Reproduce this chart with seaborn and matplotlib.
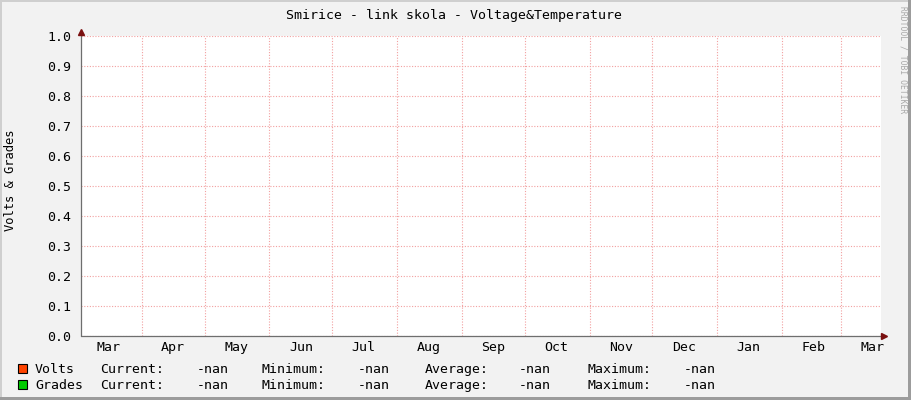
import numpy as np
import pandas as pd
import matplotlib
matplotlib.use('Agg')
import matplotlib.pyplot as plt
import matplotlib.dates as mdates
from matplotlib.patches import Rectangle
import seaborn as sns

# data: the source rrd had no values, every sample is NaN
dates = pd.to_datetime(['2022-03-03', '2022-04-01', '2022-05-01', '2022-06-01', '2022-07-01',
                        '2022-08-01', '2022-09-01', '2022-10-01', '2022-11-01', '2022-12-01',
                        '2023-01-01', '2023-02-01', '2023-03-01', '2023-03-20'])
volts = [np.nan, np.nan, np.nan, np.nan, np.nan, np.nan, np.nan,
         np.nan, np.nan, np.nan, np.nan, np.nan, np.nan, np.nan]
grades = [np.nan, np.nan, np.nan, np.nan, np.nan, np.nan, np.nan,
          np.nan, np.nan, np.nan, np.nan, np.nan, np.nan, np.nan]
y_ticks = [0.0, 0.1, 0.2, 0.3, 0.4, 0.5, 0.6, 0.7, 0.8, 0.9, 1.0]
series_names = ['Volts', 'Grades']
series_colors = ['#ff4400', '#00cc00']
stat_names = ['Current:', 'Minimum:', 'Average:', 'Maximum:']
stat_values = ['-nan', '-nan', '-nan', '-nan']
title = 'Smirice - link skola - Voltage&Temperature'

sns.set_style('white')
plt.rcParams['font.family'] = ['DejaVu Sans Mono']
plt.rcParams['text.color'] = 'black'
plt.rcParams['xtick.labelcolor'] = 'black'
plt.rcParams['ytick.labelcolor'] = 'black'

W, H = 911, 400
fig = plt.figure(figsize=(W / 100, H / 100), dpi=100, facecolor='#f2f2f2')
ax = fig.add_axes([81 / W, 64 / H, 800 / W, 300 / H])
ax.set_facecolor('white')

df = pd.DataFrame({'date': dates, 'Volts': volts, 'Grades': grades})
for name, col in zip(series_names, series_colors):
    sub = df.dropna(subset=[name])
    if len(sub):
        sns.lineplot(data=sub, x='date', y=name, color=col, ax=ax)

ax.xaxis_date()
ax.set_xlim(mdates.date2num(pd.Timestamp('2022-03-02 22:00')),
            mdates.date2num(pd.Timestamp('2023-03-20 06:00')))
ax.set_ylim(0, 1)
ax.set_xlabel('')
ax.set_ylabel('')

grid_col = '#f2a0a0'
ax.set_yticks(y_ticks)
ax.set_yticklabels(['%.1f' % v for v in y_ticks])
ax.xaxis.set_major_locator(mdates.MonthLocator())
ax.xaxis.set_major_formatter(plt.NullFormatter())
ax.xaxis.set_minor_locator(mdates.MonthLocator(bymonthday=16))
ax.xaxis.set_minor_formatter(mdates.DateFormatter('%b'))
ax.tick_params(axis='x', which='major', length=2.5, width=0.8, color=grid_col, direction='out')
ax.tick_params(axis='x', which='minor', length=0, pad=3.5, labelsize=9.5, labelcolor='black')
ax.tick_params(axis='y', length=1.8, width=0.8, color=grid_col, pad=5, labelsize=9.5, labelcolor='black')
ax.grid(True, which='major', axis='both', color=grid_col, linestyle=(0, (1, 1.5)), linewidth=0.8)

for s in ax.spines.values():
    s.set_visible(False)

# axis lines with small arrow heads, as rrdtool draws them
ax.plot([0, 0], [0, 1.013], transform=ax.transAxes, color='#6e6e6e', lw=0.9, clip_on=False, zorder=5)
ax.plot([0, 1.004], [0, 0], transform=ax.transAxes, color='#6e6e6e', lw=0.9, clip_on=False, zorder=5)
ax.plot(0, 1.013, marker='^', ms=5, color='#7a1010', transform=ax.transAxes, clip_on=False, zorder=6)
ax.plot(1.004, 0, marker='>', ms=5, color='#7a1010', transform=ax.transAxes, clip_on=False, zorder=6)

fig.text(454 / W, 1 - 19 / H, title, ha='center', va='baseline', fontsize=9.5)
fig.text(10.5 / W, 1 - 180 / H, 'Volts & Grades', rotation=90, ha='center', va='center', fontsize=8.7)
fig.text(903 / W, 1 - 60 / H, 'RRDTOOL / TOBI OETIKER', rotation=270, ha='center', va='center',
         fontsize=5.8, color='#a8a8a8')


def px_rect(x0, y0, w, h, fc, ec='none', lw=0):
    fig.patches.append(Rectangle((x0 / W, 1 - (y0 + h) / H), w / W, h / H, transform=fig.transFigure,
                                 facecolor=fc, edgecolor=ec, linewidth=lw, zorder=10))


# legend rows
stat_x = [100, 262, 425, 587]
val_x = [197, 358, 519, 684]
for i, (name, col) in enumerate(zip(series_names, series_colors)):
    base = 373 + 16 * i
    px_rect(17.5, base - 9, 9.5, 9, col, ec='black', lw=0.8)
    fig.text(35 / W, 1 - base / H, name, ha='left', va='baseline', fontsize=9.5)
    for sx, vx, sn, sv in zip(stat_x, val_x, stat_names, stat_values):
        fig.text(sx / W, 1 - base / H, sn, ha='left', va='baseline', fontsize=9.5)
        fig.text(vx / W, 1 - base / H, sv, ha='left', va='baseline', fontsize=9.5)

# frame around the image
px_rect(0, 0, W, 2, '#cfcfcf')
px_rect(0, 0, 2, H, '#cfcfcf')
px_rect(W - 3, 0, 3, H, '#9c9c9c')
px_rect(0, H - 3, W, 3, '#9c9c9c')

fig.savefig('out.png', dpi=100, facecolor=fig.get_facecolor())
